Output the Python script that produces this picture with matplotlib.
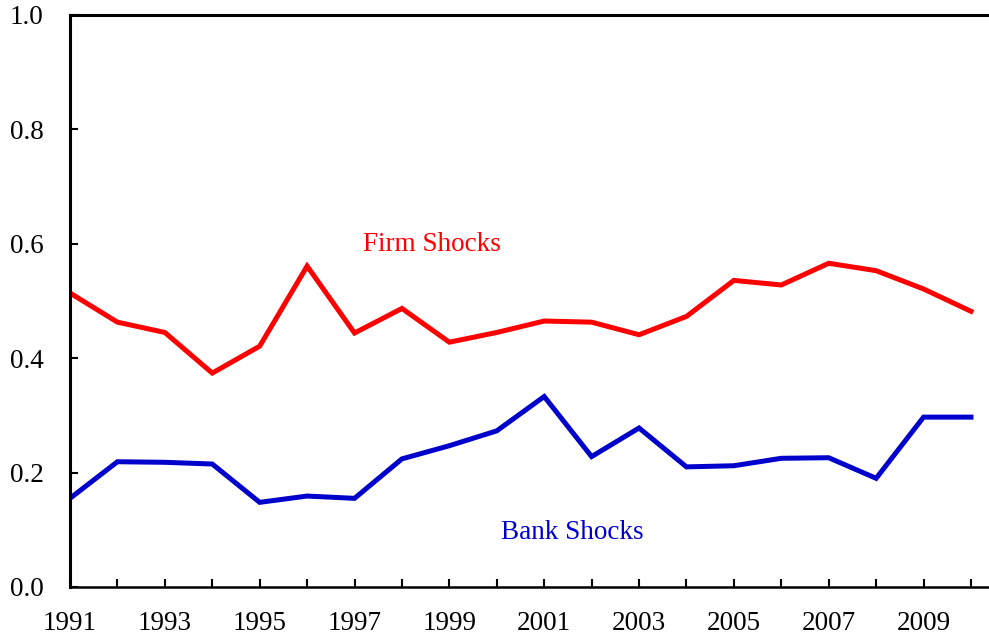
import numpy as np
import matplotlib.pyplot as plt

# Data
years = list(range(1991, 2011))
firm_shocks = [0.514, 0.463, 0.445, 0.374, 0.421, 0.561, 0.444, 0.487, 0.428, 0.445,
               0.465, 0.463, 0.441, 0.473, 0.536, 0.528, 0.566, 0.553, 0.521, 0.482]
bank_shocks = [0.155, 0.219, 0.218, 0.215, 0.148, 0.159, 0.155, 0.224, 0.247, 0.273,
               0.333, 0.228, 0.278, 0.210, 0.212, 0.225, 0.226, 0.190, 0.297, 0.297]
year_labels = [str(y) if (y - 1991) % 2 == 0 else '' for y in years]
y_ticks = [0.0, 0.2, 0.4, 0.6, 0.8, 1.0]

plt.rcParams['font.family'] = ['Liberation Serif', 'DejaVu Serif']

W, H = 989, 635
fig = plt.figure(figsize=(W / 100, H / 100), dpi=100)
ax = fig.add_axes([70 / W, 1 - 587 / H, (W - 70) / W, (587 - 15) / H])

ax.plot(years, firm_shocks, color='#ff0000', lw=3.6, solid_joinstyle='miter')
ax.plot(years, bank_shocks, color='#0000cc', lw=3.6, solid_joinstyle='miter')

ax.text(1998.63, 0.599, 'Firm Shocks', color='#ff0000', fontsize=19.5, ha='center', va='center')
ax.text(2001.59, 0.096, 'Bank Shocks', color='#0000cc', fontsize=19.5, ha='center', va='center')

ax.set_xlim(1991, 2010.38)
ax.set_ylim(0, 1.0)
ax.set_xticks(years)
ax.set_xticklabels(year_labels)
ax.set_yticks(y_ticks)
ax.set_yticklabels([f'{v:.1f}' for v in y_ticks])

ax.tick_params(direction='in', length=6, width=1.5, labelsize=19.5)
ax.tick_params(axis='x', pad=17)
ax.tick_params(axis='y', pad=19)
ax.spines['right'].set_visible(False)
for s in ['left', 'top']:
    ax.spines[s].set_linewidth(2.2)
ax.spines['bottom'].set_linewidth(1.8)

fig.savefig('out.png', dpi=100)
